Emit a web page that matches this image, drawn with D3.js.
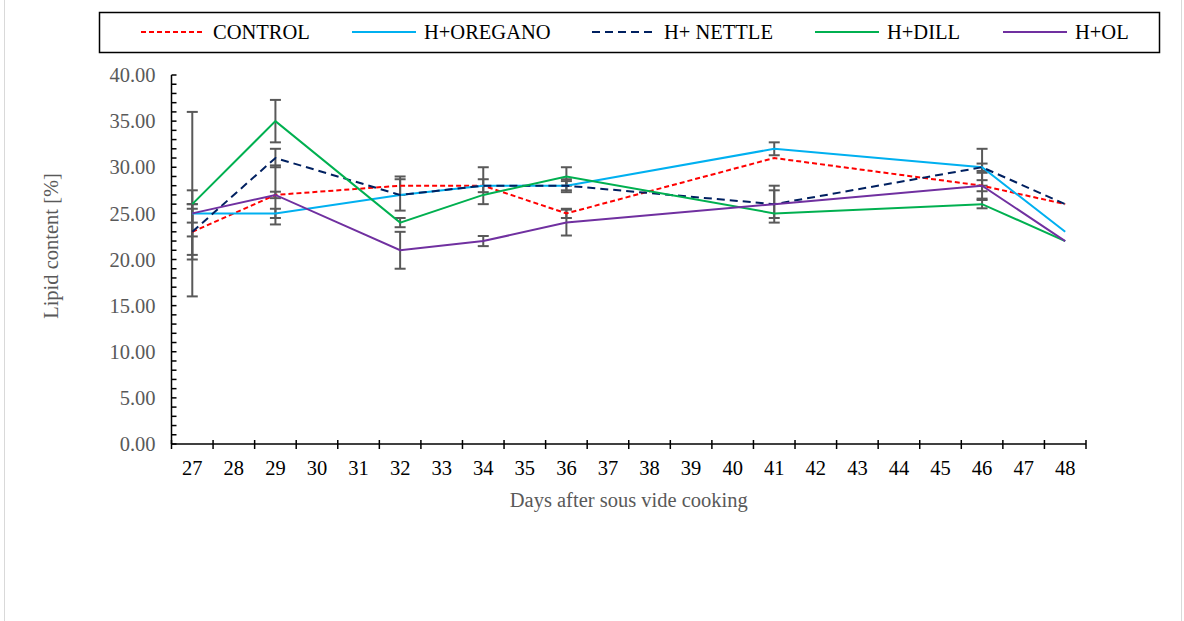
<!DOCTYPE html>
<html>
<head>
<meta charset="utf-8">
<script src="https://cdn.jsdelivr.net/npm/d3@7"></script>
<style>
  body { margin: 0; background: #fff; }
  svg { display: block; font-family: "Liberation Serif", "Times New Roman", serif; }
</style>
</head>
<body>
<div id="chart"></div>
<script>
// all days on the category axis, and the days that were measured
const categories = d3.range(27, 49);
const days = [27, 29, 32, 34, 36, 41, 46, 48];

// lipid content [%] per treatment
const control = [23, 27, 28, 28, 25, 31, 28, 26];
const oregano = [25, 25, 27, 28, 28, 32, 30, 23];
const nettle = [23, 31, 27, 28, 28, 26, 30, 26];
const dill = [26, 35, 24, 27, 29, 25, 26, 22];
const ol = [25, 27, 21, 22, 24, 26, 28, 22];

// error bar half lengths
const controlErr = [3, 0.35, 1, 0.7, 0.5, 0, 0.6, 0];
const oreganoErr = [1, 0.5, 0, 0, 0.5, 0.7, 0.4, 0];
const nettleErr = [2.5, 1, 1.7, 2, 0.7, 2, 2, 0];
const dillErr = [10, 2.3, 0.5, 0, 1, 0, 0.45, 0];
const olErr = [2.5, 3.2, 2, 0.55, 1.4, 1.5, 1.4, 0];

const yTicks = [0, 5, 10, 15, 20, 25, 30, 35, 40];

const series = [
  { name: 'CONTROL', values: control, err: controlErr, color: '#ff0000', dash: '5,3' },
  { name: 'H+OREGANO', values: oregano, err: oreganoErr, color: '#00b0f0', dash: null },
  { name: 'H+ NETTLE', values: nettle, err: nettleErr, color: '#002060', dash: '8,5' },
  { name: 'H+DILL', values: dill, err: dillErr, color: '#00b050', dash: null },
  { name: 'H+OL', values: ol, err: olErr, color: '#7030a0', dash: null }
];

const width = 1184;
const height = 621;
const margin = { top: 75, right: 98, bottom: 177, left: 171.5 };
const fontSize = '20.5px';

const svg = d3.select('#chart').append('svg')
  .attr('width', width)
  .attr('height', height);

// outer chart border
svg.append('rect')
  .attr('x', 4.5).attr('y', -10)
  .attr('width', 1177).attr('height', 640)
  .attr('fill', 'none')
  .attr('stroke', '#d9d9d9');

const x = d3.scaleBand()
  .domain(categories)
  .range([margin.left, width - margin.right]);

const y = d3.scaleLinear()
  .domain([0, 40])
  .range([height - margin.bottom, margin.top]);

const cx = d => x(d) + x.bandwidth() / 2;

// y axis
const yAxis = svg.append('g')
  .attr('transform', `translate(${margin.left},0)`);

yAxis.append('g')
  .selectAll('line')
  .data(d3.range(0, 41, 1))
  .join('line')
  .attr('x1', 0).attr('x2', 5)
  .attr('y1', d => y(d)).attr('y2', d => y(d))
  .attr('stroke', '#000')
  .attr('stroke-width', 1.5);

yAxis.append('line')
  .attr('x1', 0).attr('x2', 0)
  .attr('y1', y(0)).attr('y2', y(40))
  .attr('stroke', '#000')
  .attr('stroke-width', 1.5);

yAxis.selectAll('.ylabel')
  .data(yTicks)
  .join('text')
  .attr('class', 'ylabel')
  .attr('x', -16)
  .attr('y', d => y(d))
  .attr('dy', '0.35em')
  .attr('text-anchor', 'end')
  .attr('fill', '#595959')
  .style('font-size', fontSize)
  .text(d3.format('.2f'));

// x axis with ticks between categories
const xAxis = svg.append('g')
  .attr('transform', `translate(0,${y(0)})`);

xAxis.append('line')
  .attr('x1', margin.left).attr('x2', width - margin.right)
  .attr('stroke', '#000')
  .attr('stroke-width', 1.5);

xAxis.selectAll('.xtick')
  .data(categories.map(d => x(d)).concat([width - margin.right]))
  .join('line')
  .attr('class', 'xtick')
  .attr('x1', d => d).attr('x2', d => d)
  .attr('y1', -4).attr('y2', 5)
  .attr('stroke', '#000')
  .attr('stroke-width', 1.5);

xAxis.selectAll('.xlabel')
  .data(categories)
  .join('text')
  .attr('class', 'xlabel')
  .attr('x', d => cx(d))
  .attr('y', 24)
  .attr('dy', '0.35em')
  .attr('text-anchor', 'middle')
  .attr('fill', '#000')
  .style('font-size', fontSize)
  .text(d => d);

// axis titles
svg.append('text')
  .attr('x', (margin.left + width - margin.right) / 2)
  .attr('y', 500)
  .attr('dy', '0.35em')
  .attr('text-anchor', 'middle')
  .attr('fill', '#595959')
  .style('font-size', fontSize)
  .text('Days after sous vide cooking');

svg.append('text')
  .attr('transform', 'translate(51,246) rotate(-90)')
  .attr('dy', '0.35em')
  .attr('text-anchor', 'middle')
  .attr('fill', '#595959')
  .style('font-size', fontSize)
  .text('Lipid content [%]');

// error bars
const errGroup = svg.append('g').attr('class', 'errors');
series.forEach(s => {
  const bars = days.map((d, i) => ({ day: d, v: s.values[i], e: s.err[i] })).filter(b => b.e > 0);
  const g = errGroup.selectAll(null)
    .data(bars)
    .join('g')
    .attr('stroke', '#595959')
    .attr('stroke-width', 2);
  g.append('line')
    .attr('x1', b => cx(b.day)).attr('x2', b => cx(b.day))
    .attr('y1', b => y(b.v - b.e)).attr('y2', b => y(b.v + b.e));
  [-1, 1].forEach(sign => {
    g.append('line')
      .attr('x1', b => cx(b.day) - 5.5).attr('x2', b => cx(b.day) + 5.5)
      .attr('y1', b => y(b.v + sign * b.e)).attr('y2', b => y(b.v + sign * b.e));
  });
});

// lines
const line = d3.line()
  .x((v, i) => cx(days[i]))
  .y(v => y(v));

svg.append('g')
  .selectAll('path')
  .data(series)
  .join('path')
  .attr('d', s => line(s.values))
  .attr('fill', 'none')
  .attr('stroke', s => s.color)
  .attr('stroke-width', 2)
  .attr('stroke-dasharray', s => s.dash);

// legend
const legend = svg.append('g');
legend.append('rect')
  .attr('x', 99.5).attr('y', 12.5)
  .attr('width', 1060).attr('height', 40)
  .attr('fill', '#fff')
  .attr('stroke', '#000')
  .attr('stroke-width', 1.5);

const legendX = [141, 352, 592, 815, 1003];
const items = legend.selectAll('.item')
  .data(series)
  .join('g')
  .attr('class', 'item')
  .attr('transform', (s, i) => `translate(${legendX[i]},32)`);

items.append('line')
  .attr('x1', 0).attr('x2', 64)
  .attr('stroke', s => s.color)
  .attr('stroke-width', 2)
  .attr('stroke-dasharray', s => s.dash);

items.append('text')
  .attr('x', 72)
  .attr('dy', '0.35em')
  .attr('fill', '#000')
  .style('font-size', fontSize)
  .text(s => s.name);
</script>
</body>
</html>
